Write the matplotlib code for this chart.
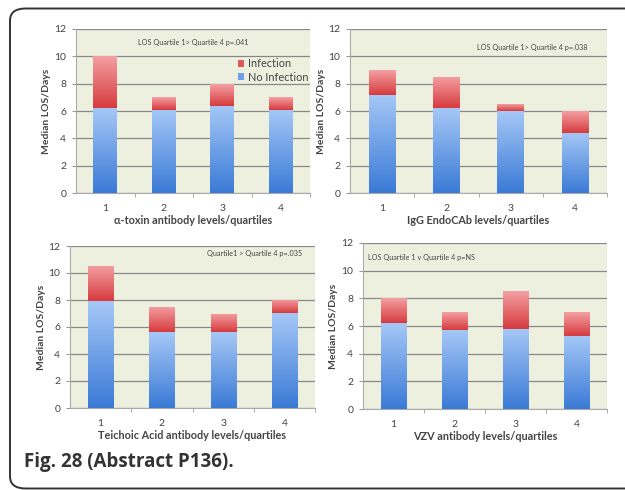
import numpy as np
import matplotlib
matplotlib.use("Agg")
import matplotlib.pyplot as plt
from matplotlib.colors import LinearSegmentedColormap
from matplotlib.patches import FancyBboxPatch, Patch

plt.rcParams['font.family'] = ['Lato', 'DejaVu Sans']

quartiles = ["1", "2", "3", "4"]
y_ticks = [0, 2, 4, 6, 8, 10, 12]

# panel data: No Infection part and total height (No Infection + Infection)
alpha_no_inf = [6.2, 6.1, 6.4, 6.1]
alpha_total = [10.0, 7.0, 8.0, 7.0]
igg_no_inf = [7.2, 6.2, 6.0, 4.4]
igg_total = [9.0, 8.5, 6.5, 6.0]
teich_no_inf = [7.9, 5.6, 5.6, 7.0]
teich_total = [10.5, 7.5, 7.0, 8.0]
vzv_no_inf = [6.2, 5.7, 5.8, 5.3]
vzv_total = [8.0, 7.0, 8.5, 7.0]

xlabels = ["α-toxin antibody levels/quartiles",
           "IgG EndoCAb levels/quartiles",
           "Teichoic Acid antibody levels/quartiles",
           "VZV antibody levels/quartiles"]
notes = ["LOS Quartile 1> Quartile 4 p=.041",
         "LOS Quartile 1> Quartile 4 p=.038",
         "Quartile1 > Quartile 4 p=.035",
         "LOS Quartile 1 v Quartile 4 p=NS"]
ylabel = "Median LOS/Days"
caption = "Fig. 28 (Abstract P136)."

panels = [(alpha_no_inf, alpha_total), (igg_no_inf, igg_total),
          (teich_no_inf, teich_total), (vzv_no_inf, vzv_total)]

positions = [
    [76/625, 1-193/490, 234/625, 164/490],
    [350/625, 1-193/490, 257/625, 164/490],
    [70/625, 1-408/490, 245/625, 162/490],
    [363/625, 1-409/490, 244/625, 166/490],
]
note_pos = [(0.5, 0.915, 'center'), (0.926, 0.89, 'right'),
            (0.947, 0.955, 'right'), (0.02, 0.915, 'left')]

blue_cmap = LinearSegmentedColormap.from_list("b", ["#3a7ad6", "#a6c8f7"])
red_cmap = LinearSegmentedColormap.from_list("r", ["#d63b3e", "#f4a0a3"])
BG = "#eef0df"
TXT = "#444444"

fig = plt.figure(figsize=(6.25, 4.9), dpi=100)
fig.patch.set_facecolor("white")

border = FancyBboxPatch((10/625, 1.5/490), 700/625, 480/490,
                        boxstyle="round,pad=0,rounding_size=0.025",
                        transform=fig.transFigure, fill=False,
                        edgecolor="#333333", linewidth=1.4, clip_on=False)
fig.patches.append(border)


def grad_fill(ax, bars, cmap):
    for b in bars:
        b.set_facecolor("none")
        b.set_edgecolor("none")
        x0, y0 = b.get_x(), b.get_y()
        w, h = b.get_width(), b.get_height()
        grad = np.linspace(0, 1, 256).reshape(-1, 1)
        im = ax.imshow(grad, cmap=cmap, origin="lower", aspect="auto",
                       extent=[x0, x0 + w, y0, y0 + h], zorder=3)
        im.set_clip_path(b)


x = np.arange(1, 5)
for i, ((no_inf, total), pos) in enumerate(zip(panels, positions)):
    ax = fig.add_axes(pos)
    ax.set_facecolor(BG)
    no_inf = np.array(no_inf)
    inf = np.array(total) - no_inf
    b1 = ax.bar(x, no_inf, width=0.41, zorder=3, label="No Infection", color="#6fa0ea")
    b2 = ax.bar(x, inf, bottom=no_inf, width=0.41, zorder=3, label="Infection", color="#e86a6d")
    grad_fill(ax, b1, blue_cmap)
    grad_fill(ax, b2, red_cmap)
    ax.set_xlim(0.5, 4.5)
    ax.set_ylim(0, 12)
    ax.set_yticks(y_ticks)
    ax.set_xticks(x)
    ax.set_xticklabels(quartiles)
    ax.set_xticks([1.5, 2.5, 3.5, 4.5], minor=True)
    ax.tick_params(axis='x', which='major', length=0, pad=8, labelsize=7.5, labelcolor=TXT)
    ax.tick_params(axis='x', which='minor', length=3, color="#999999", direction='out')
    ax.tick_params(axis='y', length=3, color="#999999", labelsize=7.5, labelcolor=TXT, pad=4)
    ax.yaxis.grid(True, color="#888888", linewidth=0.9, zorder=1)
    ax.set_axisbelow(True)
    for s in ["top", "right"]:
        ax.spines[s].set_visible(False)
    for s in ["left", "bottom"]:
        ax.spines[s].set_color("#aaaaaa")
        ax.spines[s].set_linewidth(0.8)
    ax.set_xlabel(xlabels[i], fontsize=7.8, fontweight='bold', color=TXT, labelpad=1)
    ax.set_ylabel(ylabel, fontsize=7.5, fontweight='bold', color=TXT, labelpad=2)
    nx, ny, ha = note_pos[i]
    ax.text(nx, ny, notes[i], transform=ax.transAxes, fontsize=5.2, color=TXT, ha=ha, va='center')
    if i == 0:
        handles = [Patch(facecolor="#e0585b", edgecolor="none", label="Infection"),
                   Patch(facecolor="#6fa0ea", edgecolor="none", label="No Infection")]
        ax.legend(handles=handles, loc='upper right', bbox_to_anchor=(1.02, 0.86),
                  frameon=False, fontsize=7.8, handlelength=0.6, handleheight=0.6,
                  handletextpad=0.3, labelspacing=0.2, labelcolor=TXT, borderpad=0.1)

fig.text(24/625, 1-462/490, caption, fontsize=13.5, fontweight='bold', color="#333333",
         ha='left', va='center', family=['Open Sans', 'DejaVu Sans'])

fig.savefig("out.png", dpi=100)
